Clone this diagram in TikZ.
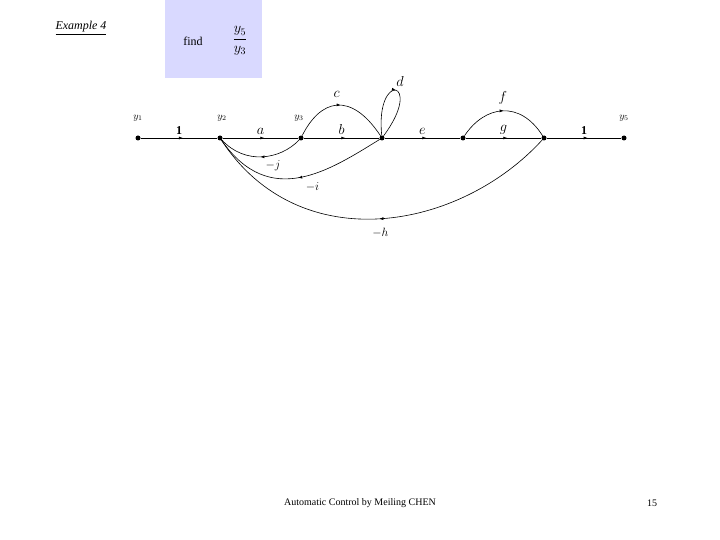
\documentclass[tikz,border=0pt]{standalone}
\usepackage{fontspec}
\setmainfont{Liberation Serif}
\usetikzlibrary{decorations.markings,arrows.meta}
\begin{document}
\begin{tikzpicture}[x=1pt,y=-1pt,
	n_pt/.style={circle,fill=black,inner sep=0pt,minimum size=5pt},
	br/.style={semithick,postaction={decorate},decoration={markings,mark=at position #1 with {\arrow{Latex[length=4pt,width=3pt]}}}},
	br/.default=0.55,
	gain/.style={font=\itshape\Large},
	]
	\useasboundingbox (0,0) rectangle (720,540);
	\node[font=\itshape\large] (title) at (81,28) {\underline{Example 4}};
	\fill[blue!15] (165,0) rectangle (262,78);
	\node[font=\large] (find) at (193,41) {find};
	\node (frac) at (240,41) {\Large$\displaystyle\frac{y_5}{y_3}$};

	\node(y1)[n_pt] at (138,138){};
	\node(y2)[n_pt] at (220,138){};
	\node(y3)[n_pt] at (301,138){};
	\node(y4)[n_pt] at (382,138){};
	\node(y5)[n_pt] at (463,138){};
	\node(y6)[n_pt] at (544,138){};
	\node(y7)[n_pt] at (624,138){};
	\node at (138,118) {$y_1$};
	\node at (222,118) {$y_2$};
	\node at (299,118) {$y_3$};
	\node at (624,118) {$y_5$};

	\draw[br] (y1) -- node[above,font=\bfseries\large]{1} (y2);
	\draw[br] (y2) -- node[above,gain]{$a$} (y3);
	\draw[br] (y3) -- node[above,gain]{$b$} (y4);
	\draw[br] (y4) -- node[above,gain]{$e$} (y5);
	\draw[br] (y5) -- node[above,gain]{$g$} (y6);
	\draw[br] (y6) -- node[above,font=\bfseries\large]{1} (y7);
	\draw[br=0.5] (y3) .. controls (320,100) and (350,90) .. node[above=4pt,gain]{$c$} (y4);
	\draw[br=0.5] (y4) .. controls (375,70) and (425,80) .. (y4);
	\node[gain] at (400,82) {$d$};
	\draw[br=0.5] (y5) .. controls (485,105) and (520,100) .. node[above=3pt,gain]{$f$} (y6);
	\draw[br=0.5] (y3) .. controls (280,160) and (245,165) .. node[below right=0pt,font=\large]{$-j$} (y2);
	\draw[br=0.5] (y4) .. controls (330,170) and (270,210) .. node[below right=2pt,font=\large]{$-i$} (y2);
	\draw[br=0.5] (y6) .. controls (460,230) and (300,260) .. node[below=6pt,font=\large]{$-h$} (y2);

	\node (foot) at (360,503) {Automatic Control by Meiling CHEN};
	\node (page) at (652,503) {15};
\end{tikzpicture}
\end{document}
